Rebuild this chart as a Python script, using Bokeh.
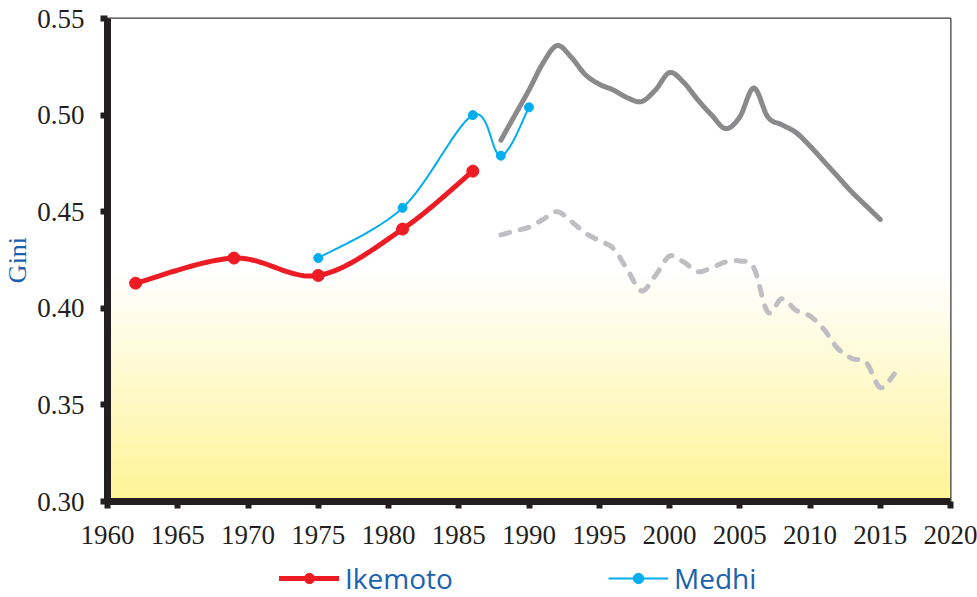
import numpy as np
from bokeh.plotting import figure
from bokeh.layouts import column
from bokeh.models import Range1d, FixedTicker, Legend, LegendItem, NumeralTickFormatter
from bokeh.embed import file_html
from bokeh.resources import INLINE

# ---------------- data ----------------
ikemoto_years = [1962, 1969, 1975, 1981, 1986]
ikemoto_gini = [0.413, 0.426, 0.417, 0.441, 0.471]

medhi_years = [1975, 1981, 1986, 1988, 1990]
medhi_gini = [0.426, 0.452, 0.500, 0.479, 0.504]

solid_years = list(range(1988, 2016))
solid_gini = [0.487, 0.500, 0.513, 0.527, 0.536, 0.530, 0.521, 0.516, 0.513, 0.509,
              0.507, 0.513, 0.522, 0.517, 0.508, 0.500, 0.493, 0.499, 0.514, 0.499,
              0.495, 0.491, 0.484, 0.476, 0.468, 0.460, 0.453, 0.446]

dashed_years = list(range(1988, 2017))
dashed_gini = [0.438, 0.440, 0.442, 0.446, 0.450, 0.445, 0.439, 0.435, 0.431, 0.420,
               0.409, 0.417, 0.427, 0.424, 0.419, 0.421, 0.424, 0.4245, 0.421, 0.398,
               0.405, 0.399, 0.396, 0.389, 0.379, 0.374, 0.372, 0.359, 0.366]

x_ticks = list(range(1960, 2021, 5))
y_ticks = [0.30, 0.35, 0.40, 0.45, 0.50, 0.55]


def smooth(xs, ys, n=24):
    """Excel-like smoothed line: Catmull-Rom converted to cubic Bezier."""
    xs = np.asarray(xs, float)
    ys = np.asarray(ys, float)
    px = np.concatenate([[xs[0]], xs, [xs[-1]]])
    py = np.concatenate([[ys[0]], ys, [ys[-1]]])
    outx, outy = [], []
    t = np.linspace(0, 1, n)
    for i in range(1, len(px) - 2):
        p0x, p0y = px[i], py[i]
        p3x, p3y = px[i + 1], py[i + 1]
        c1x = p0x + (px[i + 1] - px[i - 1]) / 6
        c1y = p0y + (py[i + 1] - py[i - 1]) / 6
        c2x = p3x - (px[i + 2] - px[i]) / 6
        c2y = p3y - (py[i + 2] - py[i]) / 6
        a = (1 - t) ** 3
        b = 3 * (1 - t) ** 2 * t
        c = 3 * (1 - t) * t ** 2
        d = t ** 3
        seg_x = a * p0x + b * c1x + c * c2x + d * p3x
        seg_y = a * p0y + b * c1y + c * c2y + d * p3y
        if i > 1:
            seg_x, seg_y = seg_x[1:], seg_y[1:]
        outx.extend(seg_x)
        outy.extend(seg_y)
    return outx, outy


AXIS_COLOR = "#231F20"
BLUE_TEXT = "#1A62AE"
RED = "#ED1C24"
CYAN = "#00AEEF"

p = figure(width=977, height=556, output_backend="svg", toolbar_location=None,
           x_range=Range1d(1960, 2020), y_range=Range1d(0.30, 0.55),
           min_border_left=103, min_border_right=27, min_border_top=18, min_border_bottom=55)

p.background_fill_color = "white"
p.border_fill_color = "white"
p.outline_line_color = "#3A3A3A"
p.outline_line_width = 2
p.xgrid.visible = False
p.ygrid.visible = False

# gradient background (white top -> pale yellow bottom)
N = 256
img = np.empty((N, 2), dtype=np.uint32)
view = img.view(dtype=np.uint8).reshape((N, 2, 4))
frac_rows = np.linspace(0, 1, N)  # 0 = bottom, 1 = top
w = np.clip((0.47 - frac_rows) / 0.47, 0, 1)
top_c = np.array([255, 255, 255])
bot_c = np.array([255, 244, 150])
for k in range(N):
    col = top_c + (bot_c - top_c) * w[k]
    view[k, :, 0] = int(col[0])
    view[k, :, 1] = int(col[1])
    view[k, :, 2] = int(col[2])
    view[k, :, 3] = 255
p.image_rgba(image=[img], x=1960, y=0.30, dw=60, dh=0.25)

# dashed gray
dx, dy = smooth(dashed_years, dashed_gini)
p.line(dx, dy, line_color="#BFBFC3", line_width=5, line_dash="9 11", line_cap="round", line_join="round")
# solid gray
sx, sy = smooth(solid_years, solid_gini)
p.line(sx, sy, line_color="#8A8A8C", line_width=5, line_cap="round", line_join="round")
# Medhi
mx, my = smooth(medhi_years, medhi_gini)
p.line(mx, my, line_color=CYAN, line_width=2)
p.scatter(medhi_years, medhi_gini, marker="circle", size=9, fill_color=CYAN, line_color=CYAN)
# Ikemoto
ix, iy = smooth(ikemoto_years, ikemoto_gini)
p.line(ix, iy, line_color=RED, line_width=5, line_cap="round")
p.scatter(ikemoto_years, ikemoto_gini, marker="circle", size=12, fill_color=RED, line_color=RED)

# axes
for ax in (p.xaxis[0], p.yaxis[0]):
    ax.axis_line_color = AXIS_COLOR
    ax.axis_line_width = 7
    ax.major_tick_line_color = AXIS_COLOR
    ax.major_tick_line_width = 6
    ax.major_tick_out = 7
    ax.major_tick_in = 0
    ax.minor_tick_line_color = None
    ax.major_label_text_font = "Liberation Serif"
    ax.major_label_text_font_size = "27px"
    ax.major_label_text_color = AXIS_COLOR

p.xaxis.ticker = FixedTicker(ticks=x_ticks)
p.yaxis.ticker = FixedTicker(ticks=y_ticks)
p.yaxis.formatter = NumeralTickFormatter(format="0.00")
p.xaxis.major_label_standoff = 17
p.yaxis.major_label_standoff = 16

p.yaxis.axis_label = "Gini"
p.yaxis.axis_label_text_font = "Liberation Serif"
p.yaxis.axis_label_text_font_style = "normal"
p.yaxis.axis_label_text_font_size = "26px"
p.yaxis.axis_label_text_color = BLUE_TEXT
p.yaxis.axis_label_standoff = 2

# ---------------- legend strip ----------------
lg = figure(width=977, height=41, output_backend="svg", toolbar_location=None,
            x_range=Range1d(0, 1), y_range=Range1d(0, 1),
            min_border_left=0, min_border_right=0, min_border_top=0, min_border_bottom=0)
lg.axis.visible = False
lg.grid.visible = False
lg.outline_line_color = None
lg.background_fill_color = "white"
lg.border_fill_color = "white"

# legend-only renderers, placed outside the visible range of the strip
off_x = [-5, -4]
off_y = [-5, -5]
li_line = lg.line(x=off_x, y=off_y, line_color=RED, line_width=5, line_cap="round")
li_pts = lg.scatter(x=off_x, y=off_y, marker="circle", size=12, fill_color=RED, line_color=RED)
lm_line = lg.line(x=off_x, y=off_y, line_color=CYAN, line_width=2)
lm_pts = lg.scatter(x=off_x, y=off_y, marker="circle", size=9, fill_color=CYAN, line_color=CYAN)

legend = Legend(items=[LegendItem(label="Ikemoto", renderers=[li_line, li_pts], index=0),
                       LegendItem(label="Medhi", renderers=[lm_line, lm_pts], index=0)],
                orientation="horizontal", location=(172, 0))
legend.label_text_font = "Open Sans"
legend.label_text_font_size = "28px"
legend.label_text_color = BLUE_TEXT
legend.glyph_width = 60
legend.glyph_height = 26
legend.label_height = 26
legend.label_width = 115
legend.label_standoff = 6
legend.spacing = 148
legend.padding = 0
legend.margin = 0
legend.border_line_color = None
legend.background_fill_alpha = 0
lg.add_layout(legend)

layout = column(p, lg, spacing=0)
open("out.html", "w").write(file_html(layout, INLINE))
